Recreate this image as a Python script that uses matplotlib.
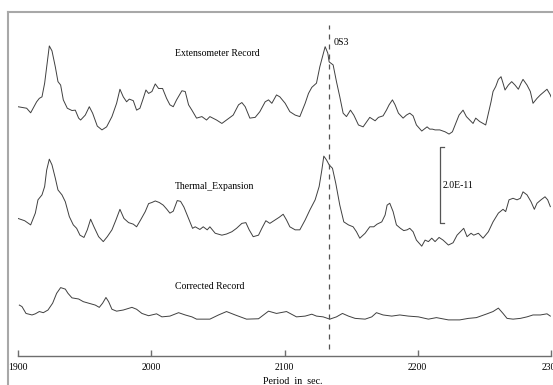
import matplotlib
matplotlib.use("Agg")
import matplotlib.pyplot as plt
from matplotlib.lines import Line2D

plt.rcParams['font.family'] = ['Liberation Serif', 'DejaVu Serif']

# strain values in units of 1e-12, relative to each trace's own baseline

# Extensometer record
ext_period = [1900, 1906.5, 1909.5, 1914, 1916, 1918, 1920, 1921.5, 1923.5, 1925.5,
              1928, 1930, 1932, 1934, 1937, 1940.5, 1943, 1945.5, 1947, 1950.5,
              1953.5, 1956, 1959.5, 1963, 1966.5, 1970.5, 1974, 1976.5, 1979, 1981.5,
              1983.5, 1986.5, 1989, 1991.5, 1994, 1996, 1998, 2000.5, 2003, 2005.5,
              2008.5, 2011.5, 2014, 2016.5, 2019, 2023, 2025.5, 2028, 2030.5, 2034,
              2038, 2041.5, 2044, 2049, 2053, 2056.5, 2061.5, 2065.5, 2068, 2070.5,
              2074, 2078, 2081.5, 2085.5, 2088, 2090.5, 2094, 2096.5, 2100.5, 2104,
              2108, 2111.5, 2115.5, 2118, 2120.5, 2124, 2126.5, 2128.5, 2130.5, 2132.5,
              2133.5, 2136.5, 2139, 2141.5, 2144, 2146.5, 2149.5, 2152, 2155.5, 2159,
              2164, 2168, 2170.5, 2174, 2176.5, 2178.5, 2181, 2183, 2185.5, 2189,
              2191.5, 2194, 2196.5, 2199, 2203, 2205.5, 2207, 2209, 2211, 2213,
              2216.5, 2220.5, 2223.5, 2226, 2228.5, 2231, 2234, 2236.5, 2239, 2241.5,
              2243.5, 2246.5, 2251, 2253, 2255, 2256.5, 2258.5, 2260.5, 2262.5, 2264,
              2265.5, 2268, 2270.5, 2273, 2275.5, 2277.5, 2279, 2282, 2284.5, 2286.5,
              2289.5, 2292, 2294, 2297, 2299.5, 2300]
ext_value = [0.6, 0.2, -1.0, 1.9, 2.8, 3.2, 6.8, 11.1, 16.6, 15.3,
             11.1, 7.2, 6.3, 2.4, 0.2, -0.4, -0.3, -2.4, -2.9, -1.6,
             0.6, -1.1, -4.5, -5.5, -4.7, -2.0, 1.5, 5.2, 3.2, 1.9,
             2.6, 2.2, -0.3, 0.2, 2.8, 5.0, 4.1, 4.6, 6.6, 5.4,
             5.4, 2.8, 1.1, 0.6, 2.4, 4.8, 4.6, 1.1, -0.3, -2.4,
             -2.0, -2.9, -2.0, -2.9, -3.8, -2.9, -1.6, 1.1, 1.7, 0.6,
             -2.4, -2.2, -0.7, 1.9, 2.4, 1.5, 3.7, 3.2, 1.5, -0.7,
             -1.6, -2.0, 1.5, 4.1, 5.7, 6.8, 11.1, 13.8, 16.4, 14.7,
             12.4, 11.6, 7.2, 3.2, -1.1, -2.0, -0.3, -1.6, -4.2, -4.7,
             -2.2, -3.1, -2.2, -1.8, -0.3, 1.1, 2.4, 1.1, -1.1, -2.4,
             -1.6, -1.1, -1.8, -4.2, -5.8, -5.1, -4.7, -5.3, -5.3, -5.5,
             -5.5, -6.0, -6.6, -6.0, -3.8, -1.6, -0.3, -2.0, -2.9, -3.8,
             -2.4, -3.3, -4.2, -1.1, 1.9, 4.6, 5.9, 7.8, 8.5, 6.8,
             5.0, 6.3, 7.2, 6.3, 5.2, 6.8, 7.8, 6.3, 4.6, 1.5,
             2.8, 3.7, 4.3, 5.2, 3.7, 3.2]

# Thermal expansion
th_period = [1900, 1905, 1909.5, 1913, 1915, 1918, 1920, 1921.5, 1923.5, 1925.5,
             1928, 1930, 1933, 1935.5, 1938.5, 1941.5, 1944, 1946.5, 1949.5, 1952,
             1954.5, 1957, 1960.5, 1964, 1967, 1970.5, 1973.5, 1976.5, 1979.5, 1983,
             1986.5, 1989, 1992, 1995.5, 1998, 2000.5, 2003, 2006, 2009, 2011.5,
             2014, 2016.5, 2019.5, 2022, 2024.5, 2028, 2031, 2033, 2036.5, 2039,
             2042, 2044, 2048, 2053, 2056.5, 2060.5, 2064, 2068, 2071, 2073.5,
             2076.5, 2080.5, 2083, 2086, 2089, 2093, 2096, 2099, 2101.5, 2104,
             2108, 2111.5, 2115.5, 2119, 2123, 2126, 2128, 2129.5, 2131.5, 2133.5,
             2136, 2138.5, 2141.5, 2144.5, 2148, 2151.5, 2154, 2156.5, 2160.5, 2164,
             2167, 2169.5, 2173, 2175.5, 2177, 2179, 2181.5, 2184, 2187, 2189.5,
             2192, 2194, 2196.5, 2199, 2203, 2205.5, 2208, 2210.5, 2213, 2216,
             2219, 2223, 2226.5, 2229.5, 2232, 2234.5, 2237, 2240, 2242, 2245.5,
             2249, 2253, 2256.5, 2260.5, 2264, 2266, 2268.5, 2271.5, 2274.5, 2277,
             2279, 2282, 2285, 2287.5, 2289.5, 2292.5, 2295.5, 2297.5, 2299.5]
th_value = [0.2, -0.4, -1.5, 1.6, 5.1, 6.4, 8.6, 12.9, 15.8, 14.3,
            10.8, 7.7, 6.4, 4.6, 0.7, -1.5, -2.4, -4.2, -4.8, -2.8,
            0.0, -2.0, -4.6, -5.9, -4.6, -2.8, -0.2, 2.6, 0.2, -0.9,
            -1.3, -2.0, -0.2, 2.0, 4.1, 4.4, 4.8, 4.4, 3.7, 2.7,
            1.6, 2.1, 4.9, 4.7, 3.2, 0.2, -2.4, -2.0, -2.7, -2.0,
            -2.8, -2.0, -3.7, -4.2, -3.9, -3.3, -2.4, -1.1, -0.9, -2.8,
            -4.6, -4.2, -2.4, -0.4, -1.1, -0.2, 0.5, 1.3, -0.2, -2.0,
            -2.8, -2.8, -0.2, 2.4, 5.1, 8.6, 12.9, 16.6, 15.6, 14.3,
            13.4, 9.4, 3.7, -0.7, -1.5, -2.0, -3.3, -5.0, -3.7, -2.0,
            -2.0, -1.3, -0.7, 1.1, 3.7, 4.2, 2.0, -1.5, -2.4, -3.0,
            -2.8, -2.4, -3.3, -5.5, -7.1, -5.5, -5.9, -5.0, -5.9, -4.8,
            -5.5, -6.8, -6.2, -4.2, -3.3, -2.4, -4.6, -3.7, -4.2, -3.7,
            -5.0, -3.3, -0.7, 1.6, 2.6, 2.0, 5.1, 5.5, 5.1, 5.5,
            7.2, 6.4, 4.6, 2.6, 4.2, 5.1, 5.9, 5.1, 3.3]

# Corrected record
cor_period = [1901, 1903, 1906, 1910.5, 1913, 1916, 1919, 1922.5, 1926, 1929,
              1932, 1935.5, 1937.5, 1940.5, 1945.5, 1949, 1953, 1958, 1961, 1963.5,
              1966, 1968, 1970.5, 1974, 1979, 1985.5, 1989, 1993, 1998, 2004,
              2008, 2014, 2020.5, 2025.5, 2030.5, 2034, 2044, 2050.5, 2056.5, 2063,
              2071.5, 2080.5, 2088, 2094, 2101.5, 2109, 2115.5, 2120.5, 2124, 2129,
              2134, 2139, 2143.5, 2148, 2153, 2160.5, 2165.5, 2169, 2174, 2180.5,
              2186.5, 2193, 2200.5, 2208, 2214, 2223, 2231.5, 2238, 2244, 2252,
              2256.5, 2260.5, 2264, 2267, 2271.5, 2277, 2282, 2286.5, 2292, 2297,
              2299.5]
cor_value = [1.4, 1.0, -0.8, -1.2, -0.9, -0.3, -0.6, 0.1, 1.9, 4.5,
             6.0, 5.6, 4.5, 3.3, 3.0, 2.3, 1.9, 1.4, 0.8, 1.9,
             3.4, 2.3, 0.3, -0.2, 0.1, 0.8, 0.3, -0.8, -1.4, -0.9,
             -1.7, -1.5, -0.6, -1.2, -1.7, -2.3, -2.3, -1.2, -0.3, -1.2,
             -2.3, -2.2, -0.2, -0.8, -0.3, -1.7, -1.5, -1.0, -1.5, -1.7,
             -2.3, -1.7, -0.8, -1.5, -2.1, -2.3, -1.7, -0.6, -1.2, -1.5,
             -1.2, -1.5, -1.7, -2.3, -1.9, -2.5, -2.5, -2.1, -1.9, -0.9,
             -0.3, 0.6, -0.8, -2.1, -2.3, -2.1, -1.7, -1.2, -1.2, -0.9,
             -1.5]

offsets = [65, 36, 12]
trace_labels = ['Extensometer Record', 'Thermal_Expansion', 'Corrected Record']
xticks = [1900, 2000, 2100, 2200, 2300]
os3_period = 2133.5
scale_bar = (35, 55)  # 20 units of 1e-12 = 2.0E-11

fig = plt.figure(figsize=(5.53, 3.85), dpi=100)
ax = fig.add_axes([18 / 553, 29 / 385, 533 / 553, 344 / 385])
ax.set_xlim(1900, 2300)
ax.set_ylim(0, 344 / 3.8)

line_kw = dict(color='#404040', lw=0.7)
ax.plot(ext_period, [v + offsets[0] for v in ext_value], **line_kw)
ax.plot(th_period, [v + offsets[1] for v in th_value], **line_kw)
ax.plot(cor_period, [v + offsets[2] for v in cor_value], **line_kw)

# trace names
for lab, yy in zip(trace_labels, [79.7, 44.5, 18.4]):
    ax.text(2017.5, yy, lab, fontsize=7, va='center', ha='left')

# 0S3 marker
ax.plot([os3_period, os3_period], [1.8, 87.1], color='#555555', lw=0.9,
        dashes=(4, 4))
ax.text(2136.5, 82.6, '0S3', fontsize=7.2, va='center', ha='left')

# amplitude scale bar
bx = 2216.7
ax.plot([bx + 3, bx, bx, bx + 3], [scale_bar[0], scale_bar[0], scale_bar[1], scale_bar[1]],
        color='#555555', lw=0.9)
ax.text(bx + 2.3, sum(scale_bar) / 2, '2.0E-11', fontsize=7, va='center', ha='left')

# axes styling
for s in ['left', 'right', 'top']:
    ax.spines[s].set_visible(False)
ax.spines['bottom'].set_color('#6e6e6e')
ax.spines['bottom'].set_linewidth(1.0)
ax.set_yticks([])
ax.set_xticks(xticks)
ax.tick_params(axis='x', direction='in', length=4, width=1.0, color='#6e6e6e',
               labelsize=7, pad=5)
ax.set_xlabel('Period  in  sec.', fontsize=7.2, labelpad=2)
ax.xaxis.set_label_coords((292.5 - 18) / 533, -0.06)

# outer frame (left and top edges)
frame_kw = dict(color='#a8a8a8', lw=1.5, transform=fig.transFigure)
fig.add_artist(Line2D([8 / 553, 8 / 553], [0, 373 / 385], **frame_kw))
fig.add_artist(Line2D([8 / 553, 1], [373 / 385, 373 / 385], **frame_kw))

fig.savefig('out.png', dpi=100)
